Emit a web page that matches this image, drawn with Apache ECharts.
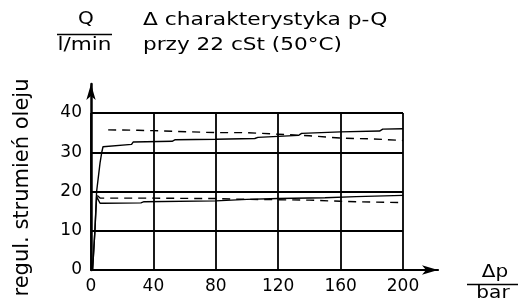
<!DOCTYPE html>
<html>
<head>
<meta charset="utf-8">
<script src="https://cdn.jsdelivr.net/npm/echarts@6/dist/echarts.min.js"></script>
<style>
  html, body { margin: 0; padding: 0; background: #fff; }
  #main { width: 518px; height: 304px; }
</style>
</head>
<body>
<div id="main"></div>
<script>
// pressure difference (bar) and regulated flow (l/min)
const upperSolidP = [1, 2.5, 3.6, 5.8, 6.9, 7.7, 8, 26, 27, 52, 54, 80, 105, 107, 133, 135, 160, 185, 187, 200];
const upperSolidQ = [0, 10, 20, 27.3, 30, 31.4, 31.8, 32, 32.6, 32.8, 33.2, 33.3, 33.5, 33.8, 34.3, 34.8, 35.2, 35.4, 35.9, 36];

const upperDashedP = [11, 30, 40, 55, 80, 100, 120, 140, 160, 180, 200];
const upperDashedQ = [35.7, 35.6, 35.5, 35.3, 35.0, 35.0, 34.6, 34.2, 33.6, 33.4, 33.0];

const lowerSolidP = [1, 2.5, 3.6, 5.8, 8, 32, 34, 80, 100, 120, 150, 170, 200];
const lowerSolidQ = [0, 10, 18.7, 17.0, 17.0, 17.1, 17.4, 17.6, 18.0, 18.2, 18.4, 18.7, 19];

const lowerDashedP = [4, 6, 40, 80, 100, 140, 160, 180, 200];
const lowerDashedQ = [19.0, 18.3, 18.3, 18.2, 18.0, 17.8, 17.5, 17.3, 17.2];

const xTicks = [0, 40, 80, 120, 160, 200];
const yTicks = [0, 10, 20, 30, 40];

const zip = (a, b) => a.map((v, i) => [v, b[i]]);

const FONT = 'DejaVu Sans';
const chart = echarts.init(document.getElementById('main'), null, { renderer: 'canvas' });

const lineSeries = (name, p, q, dashed) => ({
    name: name,
    type: 'line',
    xAxisIndex: 0,
    yAxisIndex: 0,
    data: zip(p, q),
    showSymbol: false,
    symbol: 'none',
    silent: true,
    animation: false,
    lineStyle: { color: '#000', width: 1.4, type: dashed ? [8, 6] : 'solid' }
});

const txt = (text, x, y, align, scale) => ({
    type: 'text',
    x: x, y: y,
    scaleX: scale,
    style: { text: text, fill: '#000', fontFamily: FONT, fontSize: 17, align: align || 'left', verticalAlign: 'middle' }
});

chart.setOption({
    animation: false,
    backgroundColor: '#fff',
    grid: [
        { left: 91, top: 113, right: 115, bottom: 34, outerBoundsMode: 'none' },
        { left: 91, top: 84, right: 80, bottom: 34, outerBoundsMode: 'none' }
    ],
    xAxis: [
        {
            type: 'value', gridIndex: 0, min: xTicks[0], max: xTicks[xTicks.length - 1], interval: 40,
            axisLine: { show: false }, axisTick: { show: false },
            axisLabel: { color: '#000', fontFamily: FONT, fontSize: 17, margin: 8 },
            splitLine: { show: true, showMinLine: true, showMaxLine: true, lineStyle: { color: '#000', width: 1.8 } }
        },
        {
            type: 'value', gridIndex: 1, min: 0, max: 1,
            axisLine: { show: true, symbol: ['none', 'arrow'], symbolSize: [7, 16], lineStyle: { color: '#000', width: 2.2 } },
            axisTick: { show: false }, axisLabel: { show: false }, splitLine: { show: false }
        }
    ],
    yAxis: [
        {
            type: 'value', gridIndex: 0, min: yTicks[0], max: yTicks[yTicks.length - 1], interval: 10,
            axisLine: { show: false }, axisTick: { show: false },
            axisLabel: { color: '#000', fontFamily: FONT, fontSize: 17, margin: 9 },
            splitLine: { show: true, showMinLine: true, showMaxLine: true, lineStyle: { color: '#000', width: 1.8 } },
            name: 'regul. strumień oleju',
            nameLocation: 'middle',
            nameRotate: 90,
            nameGap: 58,
            nameTextStyle: { color: '#000', fontFamily: FONT, fontSize: 21, padding: [0, 0, 0, 8] }
        },
        {
            type: 'value', gridIndex: 1, min: 0, max: 1,
            axisLine: { show: true, symbol: ['none', 'arrow'], symbolSize: [7, 16], lineStyle: { color: '#000', width: 2.5 } },
            axisTick: { show: false }, axisLabel: { show: false }, splitLine: { show: false }
        }
    ],
    series: [
        lineSeries('upper solid', upperSolidP, upperSolidQ, false),
        lineSeries('upper dashed', upperDashedP, upperDashedQ, true),
        lineSeries('lower solid', lowerSolidP, lowerSolidQ, false),
        lineSeries('lower dashed', lowerDashedP, lowerDashedQ, true)
    ],
    graphic: [
        txt('Q', 86, 20, 'center', 1.18),
        { type: 'line', shape: { x1: 57, y1: 34.5, x2: 112, y2: 34.5 }, style: { stroke: '#000', lineWidth: 1.5 } },
        txt('l/min', 84.5, 46, 'center', 1.27),
        txt('Δ charakterystyka p-Q', 143, 20.5, 'left', 1.28),
        txt('przy 22 cSt (50°C)', 143, 46, 'left', 1.27),
        txt('Δp', 495, 273, 'center', 1.18),
        { type: 'line', shape: { x1: 467, y1: 284.5, x2: 518, y2: 284.5 }, style: { stroke: '#000', lineWidth: 1.5 } },
        txt('bar', 493, 294, 'center', 1.18)
    ]
});
</script>
</body>
</html>
